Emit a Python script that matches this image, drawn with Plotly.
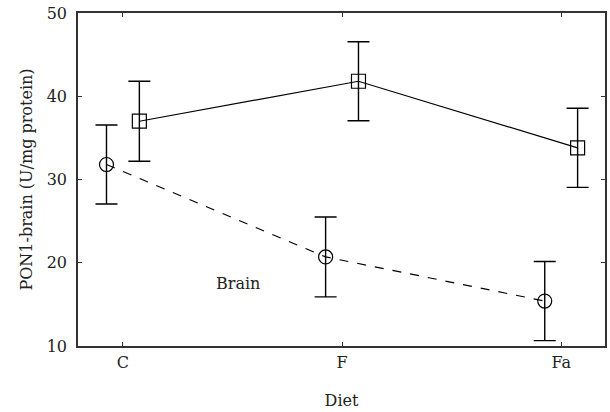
import plotly.graph_objects as go

categories = ["C", "F", "Fa"]
square_vals = [37.0, 41.8, 33.8]
square_err = [4.8, 4.75, 4.75]
circle_vals = [31.8, 20.7, 15.4]
circle_err = [4.75, 4.8, 4.75]
y_ticks = [10, 20, 30, 40, 50]

offset = 0.075
idx = list(range(len(categories)))
FONT = "DejaVu Serif"
FS = 16

fig = go.Figure()
fig.add_trace(go.Scatter(
    x=[i - offset for i in idx], y=circle_vals,
    mode="lines+markers",
    line=dict(color="black", width=1.2, dash="dash"),
    marker=dict(symbol="circle-open", size=14, color="black", line=dict(width=1.2)),
    error_y=dict(type="data", array=circle_err, color="black", thickness=1.4, width=11),
    showlegend=False,
))
fig.add_trace(go.Scatter(
    x=[i + offset for i in idx], y=square_vals,
    mode="lines+markers",
    line=dict(color="black", width=1.2),
    marker=dict(symbol="square-open", size=14, color="black", line=dict(width=1.2)),
    error_y=dict(type="data", array=square_err, color="black", thickness=1.4, width=11),
    showlegend=False,
))
fig.add_annotation(x=0.523, y=17.5, text="Brain", showarrow=False,
                   font=dict(family=FONT, size=FS, color="#222"))

axis_common = dict(showline=True, linecolor="#333", linewidth=1.5, mirror="ticks",
                   ticks="inside", ticklen=4, tickcolor="#333", tickwidth=1,
                   showgrid=False, zeroline=False,
                   tickfont=dict(family=FONT, size=FS, color="#222"))
fig.update_xaxes(range=[-0.205, 2.2], tickvals=idx, ticktext=categories,
                 ticklabelstandoff=1,
                 title=dict(text="Diet", font=dict(family=FONT, size=FS, color="#222"), standoff=24),
                 **axis_common)
fig.update_yaxes(range=[10, 50], tickvals=y_ticks, ticklabelstandoff=6,
                 title=dict(text="PON1-brain (U/mg protein)", font=dict(family=FONT, size=FS, color="#222"), standoff=10),
                 **axis_common)
fig.update_layout(width=610, height=412, margin=dict(l=78, r=3, t=13, b=66),
                  plot_bgcolor="white", paper_bgcolor="white")
fig.write_html("out.html")
